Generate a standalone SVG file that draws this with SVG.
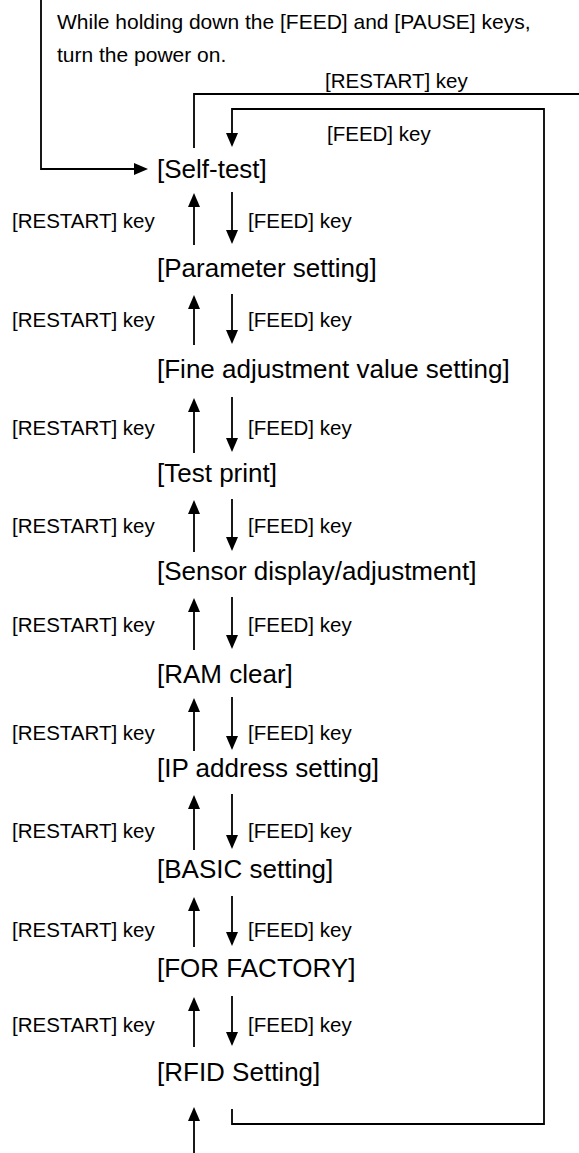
<svg xmlns="http://www.w3.org/2000/svg" width="579" height="1153" viewBox="0 0 579 1153">
  <style>
    .para { font-family: "Liberation Sans", Arial, sans-serif; font-size: 21px; fill: #000; }
    .key { font-family: "Liberation Sans", Arial, sans-serif; font-size: 20.5px; fill: #000; }
    .mode { font-family: "Liberation Sans", Arial, sans-serif; font-size: 26px; fill: #000; }
    .ln { stroke: #000; stroke-width: 1.8; fill: none; }
    .arr { stroke: #000; stroke-width: 1.8; fill: none; marker-end: url(#ah); }
  </style>
  <defs>
    <marker id="ah" viewBox="0 0 14 12" markerUnits="userSpaceOnUse" markerWidth="14" markerHeight="12" refX="2" refY="6" orient="auto">
      <path d="M0,0 L14,6 L0,12 z" fill="#000"/>
    </marker>
  </defs>
  <rect width="579" height="1153" fill="#fff"/>

  <g id="power-on">
    <text class="para" x="57" y="29">While holding down the [FEED] and [PAUSE] keys,</text>
    <text class="para" x="57" y="62">turn the power on.</text>
  </g>

  <g id="self-test"><text class="mode" x="157" y="178">[Self-test]</text></g>
  <g id="parameter-setting"><text class="mode" x="157" y="277">[Parameter setting]</text></g>
  <g id="fine-adjustment"><text class="mode" x="157" y="378">[Fine adjustment value setting]</text></g>
  <g id="test-print"><text class="mode" x="157" y="482">[Test print]</text></g>
  <g id="sensor"><text class="mode" x="157" y="580">[Sensor display/adjustment]</text></g>
  <g id="ram-clear"><text class="mode" x="157" y="683">[RAM clear]</text></g>
  <g id="ip-address"><text class="mode" x="157" y="777">[IP address setting]</text></g>
  <g id="basic-setting"><text class="mode" x="157" y="878">[BASIC setting]</text></g>
  <g id="for-factory"><text class="mode" x="157" y="977">[FOR FACTORY]</text></g>
  <g id="rfid-setting"><text class="mode" x="157" y="1081">[RFID Setting]</text></g>

  <g id="connectors">
    <!-- power-on entry -->
    <polyline class="arr" points="41,0 41,169 136,169"/>
    <!-- loop back to self-test: RESTART key -->
    <polyline class="ln" points="194,148 194,94 579,94"/>
    <text class="key" x="325" y="88">[RESTART] key</text>
    <!-- loop from RFID setting back to self-test: FEED key -->
    <polyline class="arr" points="232,1109 232,1124 544,1124 544,109 232,109 232,135"/>
    <text class="key" x="327" y="141">[FEED] key</text>

    <!-- step pairs: RESTART (up) / FEED (down) -->
    <line class="arr" x1="194" y1="245" x2="194" y2="205"/>
    <line class="arr" x1="232" y1="192" x2="232" y2="232"/>
    <text class="key" x="12" y="228">[RESTART] key</text>
    <text class="key" x="248" y="228">[FEED] key</text>

    <line class="arr" x1="194" y1="345" x2="194" y2="307"/>
    <line class="arr" x1="232" y1="294" x2="232" y2="332"/>
    <text class="key" x="12" y="327">[RESTART] key</text>
    <text class="key" x="248" y="327">[FEED] key</text>

    <line class="arr" x1="194" y1="453" x2="194" y2="410"/>
    <line class="arr" x1="232" y1="397" x2="232" y2="440"/>
    <text class="key" x="12" y="435">[RESTART] key</text>
    <text class="key" x="248" y="435">[FEED] key</text>

    <line class="arr" x1="194" y1="552" x2="194" y2="512"/>
    <line class="arr" x1="232" y1="499" x2="232" y2="539"/>
    <text class="key" x="12" y="533">[RESTART] key</text>
    <text class="key" x="248" y="533">[FEED] key</text>

    <line class="arr" x1="194" y1="650" x2="194" y2="610"/>
    <line class="arr" x1="232" y1="597" x2="232" y2="637"/>
    <text class="key" x="12" y="632">[RESTART] key</text>
    <text class="key" x="248" y="632">[FEED] key</text>

    <line class="arr" x1="194" y1="751" x2="194" y2="710"/>
    <line class="arr" x1="232" y1="697" x2="232" y2="738"/>
    <text class="key" x="12" y="740">[RESTART] key</text>
    <text class="key" x="248" y="740">[FEED] key</text>

    <line class="arr" x1="194" y1="850" x2="194" y2="807"/>
    <line class="arr" x1="232" y1="794" x2="232" y2="837"/>
    <text class="key" x="12" y="838">[RESTART] key</text>
    <text class="key" x="248" y="838">[FEED] key</text>

    <line class="arr" x1="194" y1="947" x2="194" y2="909"/>
    <line class="arr" x1="232" y1="896" x2="232" y2="934"/>
    <text class="key" x="12" y="937">[RESTART] key</text>
    <text class="key" x="248" y="937">[FEED] key</text>

    <line class="arr" x1="194" y1="1047" x2="194" y2="1009"/>
    <line class="arr" x1="232" y1="996" x2="232" y2="1034"/>
    <text class="key" x="12" y="1032">[RESTART] key</text>
    <text class="key" x="248" y="1032">[FEED] key</text>

    <!-- entry into RFID setting from below -->
    <line class="arr" x1="194" y1="1153" x2="194" y2="1119"/>
  </g>
</svg>
